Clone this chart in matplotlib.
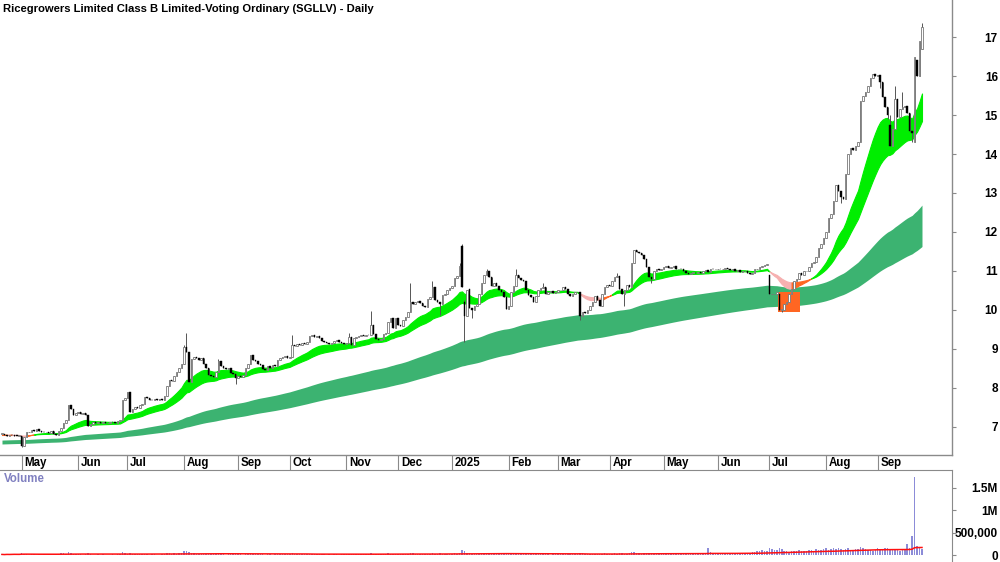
import numpy as np
import pandas as pd
import matplotlib
matplotlib.use("Agg")
import matplotlib.pyplot as plt
from matplotlib.patches import Rectangle

# ---------------- data ----------------
title = "Ricegrowers Limited Class B Limited-Voting Ordinary (SGLLV) - Daily"
start_date = "2024-04-19"

closes = [
    6.82, 6.80, 6.78, 6.80, 6.79, 6.78, 6.77, 6.77, 6.52, 6.75,
    6.86, 6.88, 6.92, 6.90, 6.94, 6.90, 6.88, 6.86, 6.87, 6.85,
    6.90, 6.83, 6.80, 6.90, 6.98, 7.10, 7.18, 7.55, 7.45, 7.30,
    7.35, 7.38, 7.33, 7.36, 7.30, 7.02, 7.08, 7.12, 7.10, 7.13,
    7.10, 7.12, 7.10, 7.11, 7.13, 7.12, 7.10, 7.15, 7.17, 7.70,
    7.73, 7.90, 7.38, 7.45, 7.50, 7.48, 7.55, 7.60, 7.78, 7.75,
    7.70, 7.68, 7.72, 7.70, 7.72, 7.68, 7.80, 8.05, 8.20, 8.18,
    8.30, 8.40, 8.50, 8.62, 9.05, 8.92, 8.15, 8.75, 8.80, 8.78,
    8.72, 8.76, 8.62, 8.50, 8.32, 8.30, 8.28, 8.42, 8.70, 8.55,
    8.50, 8.48, 8.52, 8.38, 8.35, 8.25, 8.30, 8.28, 8.32, 8.50,
    8.62, 8.85, 8.72, 8.68, 8.62, 8.58, 8.48, 8.45, 8.55, 8.52,
    8.58, 8.55, 8.72, 8.76, 8.80, 8.82, 8.78, 8.80, 9.10, 9.08,
    9.12, 9.10, 9.15, 9.13, 9.18, 9.32, 9.36, 9.30, 9.32, 9.28,
    9.20, 9.18, 9.15, 9.13, 9.16, 9.20, 9.22, 9.18, 9.15, 9.12,
    9.16, 9.30, 9.10, 9.28, 9.30, 9.32, 9.35, 9.33, 9.36, 9.35,
    9.62, 9.38, 9.25, 9.22, 9.26, 9.38, 9.42, 9.70, 9.80, 9.55,
    9.80, 9.62, 9.58, 9.75, 9.82, 9.95, 10.20, 10.15, 10.20, 10.22,
    10.18, 10.10, 10.08, 10.28, 10.32, 10.60, 10.25, 10.20, 10.15, 10.38,
    10.42, 10.52, 10.56, 10.62, 10.82, 10.88, 11.12, 10.60, 9.85, 10.50,
    10.05, 10.00, 10.10, 10.15, 10.40, 10.70, 10.90, 11.00, 10.85, 10.62,
    10.70, 10.62, 10.50, 10.45, 10.32, 10.02, 10.10, 10.45, 10.62, 10.90,
    10.82, 10.76, 10.74, 10.50, 10.38, 10.34, 10.20, 10.35, 10.52, 10.56,
    10.60, 10.42, 10.45, 10.48, 10.44, 10.46, 10.50, 10.50, 10.60, 10.55,
    10.40, 10.35, 10.40, 10.45, 10.46, 9.85, 9.95, 9.92, 10.00, 10.10,
    10.20, 10.35, 10.25, 10.10, 10.40, 10.60, 10.65, 10.62, 10.75, 10.85,
    10.88, 10.55, 10.40, 10.50, 10.65, 10.60, 11.20, 11.55, 11.48, 11.45,
    11.40, 11.30, 11.10, 10.85, 10.80, 11.00, 11.05, 11.02, 11.06, 11.10,
    11.12, 11.08, 11.10, 11.12, 11.05, 11.06, 11.04, 11.00, 10.95, 10.93,
    10.95, 10.96, 10.94, 10.97, 10.95, 11.00, 11.02, 10.98, 11.05, 11.04,
    11.05, 11.06, 11.04, 11.05, 11.07, 11.05, 11.03, 11.05, 11.00, 11.02,
    10.98, 11.00, 11.00, 10.95, 10.93, 10.96, 11.05, 11.06, 11.10, 11.12,
    11.15, 11.18, 10.40, 10.40, 10.42, 10.45, 10.00, 10.00, 10.15, 10.20,
    10.40, 10.55, 10.75, 10.80, 10.95, 10.90, 11.00, 11.00, 11.10, 11.20,
    11.22, 11.35, 11.60, 11.68, 11.85, 12.00, 12.35, 12.45, 12.80, 13.20,
    13.05, 12.90, 12.85, 13.50, 14.00, 14.15, 14.10, 14.20, 14.30, 15.35,
    15.50, 15.60, 15.75, 15.95, 16.05, 16.00, 16.02, 15.85, 15.45, 15.20,
    15.00, 14.20, 14.65, 15.40, 14.95, 15.15, 15.20, 15.22, 15.05, 14.60,
    14.55, 16.50, 16.00, 16.90, 17.25,
]

# opens differing from the previous close
open_gaps = {8: 6.78, 187: 11.65, 188: 10.20, 190: 10.55, 312: 10.90,
             316: 10.40, 361: 14.75, 371: 14.30, 372: 16.40, 373: 16.00,
             374: 16.70}
# notable wick extremes
wick_highs = {74: 9.10, 75: 9.40, 88: 8.75, 118: 9.36, 141: 9.42, 150: 9.98,
              166: 10.70, 175: 10.75, 186: 11.20, 187: 11.68, 188: 10.25,
              197: 11.05, 209: 11.05, 220: 10.68, 250: 10.94, 361: 15.00,
              363: 15.75, 366: 15.60, 374: 17.35}
wick_lows = {8: 6.48, 95: 8.10, 178: 9.87, 188: 9.18, 191: 9.80, 235: 9.75,
             253: 10.10, 264: 10.70, 317: 9.95, 341: 12.75, 357: 15.70,
             360: 14.90, 370: 14.30}

# volume in thousands
volume_k = [
    18, 12, 25, 15, 30, 22, 14, 20, 55, 35,
    20, 15, 28, 18, 12, 24, 16, 30, 14, 20,
    22, 26, 18, 35, 40, 45, 38, 70, 42, 30,
    20, 18, 25, 15, 22, 48, 20, 16, 12, 18,
    14, 20, 10, 16, 12, 18, 14, 22, 30, 75,
    45, 35, 40, 28, 20, 25, 30, 22, 35, 20,
    15, 18, 22, 14, 16, 20, 30, 45, 50, 35,
    40, 38, 45, 60, 85, 95, 80, 55, 40, 30,
    25, 20, 28, 30, 35, 22, 18, 25, 40, 28,
    20, 15, 18, 22, 25, 35, 20, 18, 15, 28,
    30, 40, 25, 20, 18, 22, 25, 16, 20, 18,
    15, 20, 28, 25, 22, 20, 18, 22, 55, 35,
    30, 25, 20, 22, 18, 35, 30, 25, 20, 22,
    18, 20, 15, 22, 16, 20, 18, 15, 22, 20,
    18, 35, 28, 22, 20, 25, 22, 18, 20, 22,
    45, 35, 25, 20, 22, 28, 30, 40, 35, 30,
    28, 22, 25, 30, 28, 35, 60, 40, 30, 25,
    22, 20, 25, 30, 28, 45, 35, 30, 40, 28,
    25, 30, 28, 30, 40, 35, 55, 110, 90, 50,
    40, 35, 30, 28, 35, 45, 40, 38, 30, 28,
    25, 22, 28, 20, 30, 35, 25, 30, 28, 35,
    25, 22, 20, 28, 25, 22, 30, 20, 18, 22,
    20, 25, 18, 15, 20, 22, 18, 20, 25, 22,
    28, 25, 20, 22, 18, 55, 40, 30, 25, 28,
    30, 35, 28, 25, 30, 40, 35, 30, 35, 40,
    35, 45, 40, 35, 30, 40, 70, 65, 45, 40,
    35, 40, 45, 55, 50, 35, 30, 28, 25, 30,
    28, 25, 30, 35, 28, 25, 30, 22, 35, 40,
    30, 28, 35, 40, 45, 55, 60, 150, 70, 45,
    40, 35, 30, 28, 35, 30, 40, 35, 45, 50,
    60, 55, 45, 50, 60, 70, 80, 90, 100, 120,
    85, 90, 160, 130, 110, 120, 150, 140, 100, 90,
    80, 95, 85, 90, 110, 100, 85, 90, 120, 110,
    100, 130, 120, 110, 140, 150, 120, 130, 160, 140,
    150, 130, 120, 140, 160, 120, 110, 130, 140, 180,
    150, 130, 120, 110, 100, 120, 170, 140, 130, 160,
    150, 140, 120, 130, 110, 100, 130, 120, 260, 150,
    420, 1740, 200, 160, 140,
]

# moving-average ribbons: spans and their values before the first bar
short_spans = [18, 35]
long_spans = [125, 220]
short_start = [6.79, 6.80]
long_start = [6.66, 6.56]
volume_ma_window = 50

# highlighted box (bar index range, price range)
box_bars = [316, 324]
box_prices = [9.95, 10.46]

price_ticks = [7, 8, 9, 10, 11, 12, 13, 14, 15, 16, 17]
volume_ticks = [0, 500000, 1000000, 1500000]
volume_tick_labels = ["0", "500,000", "1M", "1.5M"]

# ---------------- derived ----------------
closes = np.array(closes, dtype=float)
N = len(closes)
idx = np.arange(N)
dates = pd.bdate_range(start_date, periods=N)
opens = np.r_[closes[0], closes[:-1]].copy()
for k, v in open_gaps.items():
    opens[k] = v
highs = np.maximum(opens, closes)
lows = np.minimum(opens, closes)
for k, v in wick_highs.items():
    highs[k] = v
for k, v in wick_lows.items():
    lows[k] = v
volume = np.array(volume_k, dtype=float) * 1000


def ema(values, span, init):
    a = 2.0 / (span + 1)
    out = np.empty(len(values))
    e = init
    for i, v in enumerate(values):
        e = e + a * (v - e)
        out[i] = e
    return out


s_fast = ema(closes, short_spans[0], short_start[0])
s_slow = ema(closes, short_spans[1], short_start[1])
l_fast = ema(closes, long_spans[0], long_start[0])
l_slow = ema(closes, long_spans[1], long_start[1])
vol_ma = pd.Series(volume).rolling(volume_ma_window, min_periods=1).mean().values

# ---------------- figure ----------------
W, H = 1000, 562
fig = plt.figure(figsize=(W / 100, H / 100), dpi=100)
fig.patch.set_facecolor("white")


def rect(x0, y0, x1, y1):
    return [x0 / W, 1 - y1 / H, (x1 - x0) / W, (y1 - y0) / H]


FONT = ["Liberation Sans Narrow", "Liberation Sans", "DejaVu Sans"]
GRAY = "#8a8a8a"

ax = fig.add_axes(rect(0, 0, 952, 455))
axv = fig.add_axes(rect(0, 470, 952, 562), sharex=ax)

# long-term ribbon
ax.fill_between(idx, l_fast, l_slow, color="#3cb371", lw=0, zorder=1)

# short-term ribbon, coloured by state
state = np.where(s_fast >= s_slow, "g",
                 np.where(np.r_[0, np.diff(s_fast)] < 0, "p", "o"))
colors = {"g": "#00ee00", "o": "#ff6622", "p": "#f6b0b0"}
start = 0
for i in range(1, N + 1):
    if i == N or state[i] != state[start]:
        end = min(i + 1, N)
        ax.fill_between(idx[start:end], s_fast[start:end], s_slow[start:end],
                        color=colors[state[start]], lw=0.8,
                        edgecolor=colors[state[start]], zorder=2)
        start = i

ax.add_patch(Rectangle((box_bars[0] - 0.5, box_prices[0]),
                       box_bars[1] - box_bars[0] + 1,
                       box_prices[1] - box_prices[0],
                       facecolor="#ff6622", edgecolor="none", zorder=2))

# candles
up = closes >= opens
ax.vlines(idx, lows, highs, color="#555555", lw=0.7, zorder=3)
body_lo = np.minimum(opens, closes)
body_h = np.maximum(np.abs(closes - opens), 0.012)
ax.bar(idx[up], body_h[up], 0.62, bottom=body_lo[up], facecolor="white",
       edgecolor="#777777", lw=0.6, zorder=4)
ax.bar(idx[~up], body_h[~up], 0.62, bottom=body_lo[~up], facecolor="black",
       edgecolor="black", lw=0.3, zorder=4)

ax.set_xlim(-0.81, 386.2)
ax.set_ylim(6.28, 17.95)

for sp in ["top", "left"]:
    ax.spines[sp].set_visible(False)
for sp in ["right", "bottom"]:
    ax.spines[sp].set_color(GRAY)
    ax.spines[sp].set_linewidth(1)

ax.yaxis.tick_right()
ax.set_yticks(price_ticks)
ax.set_yticklabels([str(t) for t in price_ticks])
ax.tick_params(axis="y", length=3, color=GRAY, pad=30, labelsize=8.5)
for lab in ax.get_yticklabels():
    lab.set_horizontalalignment("right")
    lab.set_fontweight("bold")
    lab.set_family(FONT)

# month ticks
month_starts = [i for i in range(1, N) if dates[i].month != dates[i - 1].month]
ax.set_xticks(month_starts)
ax.tick_params(axis="x", length=11, color=GRAY, labelbottom=False,
               direction="out")
for i in month_starts:
    d = dates[i]
    lab = str(d.year) if d.month == 1 else d.strftime("%b")
    ax.annotate(lab, xy=(i, 0), xycoords=("data", "axes fraction"),
                xytext=(2, -6), textcoords="offset points",
                ha="left", va="center", fontsize=8.3, fontweight="bold",
                family=FONT)

# volume panel
axv.bar(idx, volume, 0.6, color="#8c8cd8", lw=0, zorder=2)
axv.plot(idx, vol_ma, color="#ff1010", lw=1.1, zorder=3)
axv.set_ylim(-150000, 1890000)
for sp in ["left", "bottom"]:
    axv.spines[sp].set_visible(False)
for sp in ["right", "top"]:
    axv.spines[sp].set_color(GRAY)
axv.yaxis.tick_right()
axv.set_yticks(volume_ticks)
axv.set_yticklabels(volume_tick_labels)
axv.tick_params(axis="y", length=3, color=GRAY, pad=30, labelsize=8.5)
for lab in axv.get_yticklabels():
    lab.set_horizontalalignment("right")
    lab.set_fontweight("bold")
    lab.set_family(FONT)
axv.tick_params(axis="x", length=0, labelbottom=False)
axv.text(0.004, 0.9, "Volume", transform=axv.transAxes, ha="left",
         va="center", fontsize=8.3, color="#8080c0", fontweight="bold",
         family=FONT)

fig.text(3 / W, 1 - 9 / H, title, ha="left", va="center", fontsize=8.15,
         fontweight="bold", family=FONT)

fig.savefig("out.png", dpi=100)
